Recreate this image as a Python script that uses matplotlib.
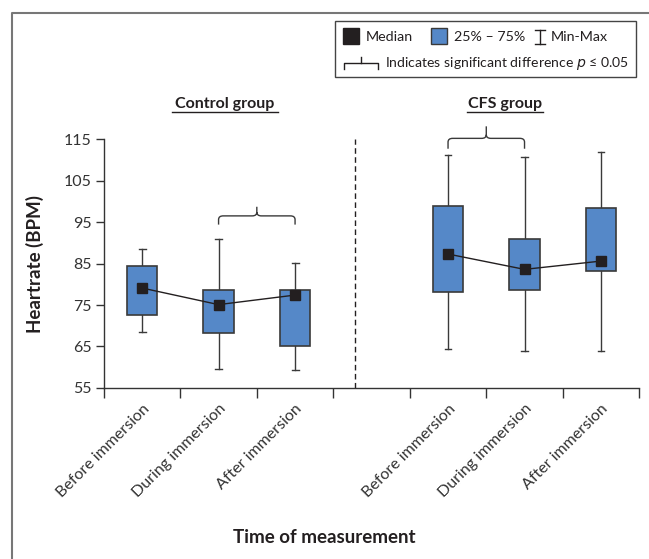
import matplotlib

matplotlib.use("Agg")
import matplotlib.pyplot as plt
from matplotlib.patches import Rectangle, PathPatch
from matplotlib.path import Path
from matplotlib.lines import Line2D

plt.rcParams["font.family"] = ["Lato", "DejaVu Sans"]

groups = ["Control group", "CFS group"]
phases = ["Before immersion", "During immersion", "After immersion"]
positions = [0, 1, 2, 4, 5, 6]

whisker_low = [68.6, 59.6, 59.3, 64.4, 64.0, 64.0]
box_low = [72.7, 68.2, 65.1, 78.2, 78.7, 83.2]
medians = [79.1, 75.1, 77.4, 87.3, 83.6, 85.6]
box_high = [84.4, 78.7, 78.7, 99.0, 90.9, 98.4]
whisker_high = [88.4, 90.9, 85.2, 111.1, 110.6, 112.0]

# significance brackets: (left pos, right pos, arm bottom, bar level, peak)
brackets = [(1, 2, 94.4, 96.5, 98.7), (4, 5, 112.7, 115.2, 118.1)]

blue = "#5588c8"
edge = "#3a3a3a"
dark = "#231f20"

fig = plt.figure(figsize=(6.49, 5.59), dpi=100)
ax = fig.add_axes([0.160, 0.306, 0.825, 0.445])

bw = 0.4
cw = 0.045
for i, x in enumerate(positions):
    ax.plot([x, x], [whisker_low[i], box_low[i]], color=edge, lw=1.0, zorder=2)
    ax.plot([x, x], [box_high[i], whisker_high[i]], color=edge, lw=1.0, zorder=2)
    for yv in (whisker_low[i], whisker_high[i]):
        ax.plot([x - cw, x + cw], [yv, yv], color=edge, lw=1.0, zorder=2)
    ax.add_patch(Rectangle((x - bw / 2, box_low[i]), bw, box_high[i] - box_low[i],
                           facecolor=blue, edgecolor=edge, lw=1.2, zorder=3))

for g in range(2):
    xs = positions[g * 3:(g + 1) * 3]
    ys = medians[g * 3:(g + 1) * 3]
    ax.plot(xs, ys, color=dark, lw=1.0, zorder=4)
    ax.plot(xs, ys, "s", color=dark, ms=7.5, zorder=5)


def bracket_path(x1, x2, y0, y1, y2, r=0.06, ry=0.9):
    xm = (x1 + x2) / 2
    verts = [(x1, y0), (x1, y1 - ry), (x1, y1), (x1 + r, y1),
             (xm - r, y1), (xm, y1), (xm, y1 + ry), (xm, y2),
             (xm, y1 + ry), (xm, y1), (xm + r, y1),
             (x2 - r, y1), (x2, y1), (x2, y1 - ry), (x2, y0)]
    codes = [Path.MOVETO, Path.LINETO, Path.CURVE3, Path.CURVE3,
             Path.LINETO, Path.CURVE3, Path.CURVE3, Path.LINETO,
             Path.MOVETO, Path.CURVE3, Path.CURVE3,
             Path.LINETO, Path.CURVE3, Path.CURVE3, Path.LINETO]
    return Path(verts, codes)


for x1, x2, y0, y1, y2 in brackets:
    ax.add_patch(PathPatch(bracket_path(x1, x2, y0, y1, y2), fill=False,
                           edgecolor=edge, lw=1.0, clip_on=False, zorder=3))

ax.plot([2.79, 2.79], [55, 115], color=dark, lw=1.0, ls=(0, (4, 2.5)), zorder=1)

ax.set_xlim(-0.5, 6.5)
ax.set_ylim(55, 115)
ax.set_yticks(range(55, 116, 10))
ax.tick_params(axis="y", direction="out", length=6, width=1, labelsize=11.5,
               colors="#333333", pad=3)
ax.set_xticks(positions)
ax.set_xticklabels(phases * 2, rotation=45, ha="right", rotation_mode="anchor",
                   fontsize=11.5, color="#333333")
ax.tick_params(axis="x", which="major", length=0, pad=10)
ax.set_xticks([b - 0.5 for b in range(8)], minor=True)
ax.tick_params(axis="x", which="minor", direction="out", length=7, width=1,
               color="#333333")
for s in ("top", "right"):
    ax.spines[s].set_visible(False)
for s in ("left", "bottom"):
    ax.spines[s].set_color("#333333")
    ax.spines[s].set_linewidth(1.0)

ax.set_ylabel("Heartrate (BPM)", fontsize=13.5, fontweight="bold", color=dark,
              labelpad=14)
fig.text(0.5, 0.038, "Time of measurement", fontsize=13.5, fontweight="bold",
         color=dark, ha="center", va="center")

fig.text(225 / 649, 1 - 104 / 559, groups[0], fontsize=11.5, fontweight="bold",
         color=dark, ha="center", va="center")
fig.text(505 / 649, 1 - 104 / 559, groups[1], fontsize=11.5, fontweight="bold",
         color=dark, ha="center", va="center")
fig.add_artist(Line2D([172 / 649, 278 / 649], [1 - 112 / 559] * 2, color=dark, lw=1.0))
fig.add_artist(Line2D([467 / 649, 543 / 649], [1 - 112 / 559] * 2, color=dark, lw=1.0))

# outer frame
fig.add_artist(Line2D([12 / 649, 12 / 649, 1.0], [0.0, 1 - 13 / 559, 1 - 13 / 559],
                      color="#777777", lw=1.5))

# legend box
W, H = 649, 559


def fx(px):
    return px / W


def fy(py):
    return 1 - py / H


fig.add_artist(Rectangle((fx(335), fy(77)), fx(636) - fx(335), fy(21) - fy(77),
                         facecolor="white", edgecolor="#444444", lw=1.0,
                         transform=fig.transFigure))
fig.add_artist(Rectangle((fx(343), fy(44)), fx(16), 16 / H, facecolor=dark,
                         edgecolor=dark, transform=fig.transFigure))
fig.text(fx(366), fy(37), "Median", fontsize=10.3, color=dark, va="center")
fig.add_artist(Rectangle((fx(431), fy(44)), fx(16), 16 / H, facecolor=blue,
                         edgecolor=edge, lw=1.0, transform=fig.transFigure))
fig.text(fx(454), fy(37), "25% \u2013 75%", fontsize=10.3, color=dark, va="center")
fig.add_artist(Line2D([fx(540)] * 2, [fy(30), fy(44)], color=dark, lw=1.0))
fig.add_artist(Line2D([fx(535), fx(545)], [fy(30)] * 2, color=dark, lw=1.0))
fig.add_artist(Line2D([fx(535), fx(545)], [fy(44)] * 2, color=dark, lw=1.0))
fig.text(fx(551), fy(37), "Min-Max", fontsize=10.3, color=dark, va="center")
fig.add_artist(Line2D([fx(344), fx(344), fx(378), fx(378)],
                      [fy(69), fy(63), fy(63), fy(69)], color=dark, lw=1.0))
fig.add_artist(Line2D([fx(361)] * 2, [fy(63), fy(57)], color=dark, lw=1.0))
fig.text(fx(385), fy(64), "Indicates significant difference $p$ \u2264 0.05",
         fontsize=10.1, color=dark, va="center")

fig.savefig("out.png", dpi=100)
